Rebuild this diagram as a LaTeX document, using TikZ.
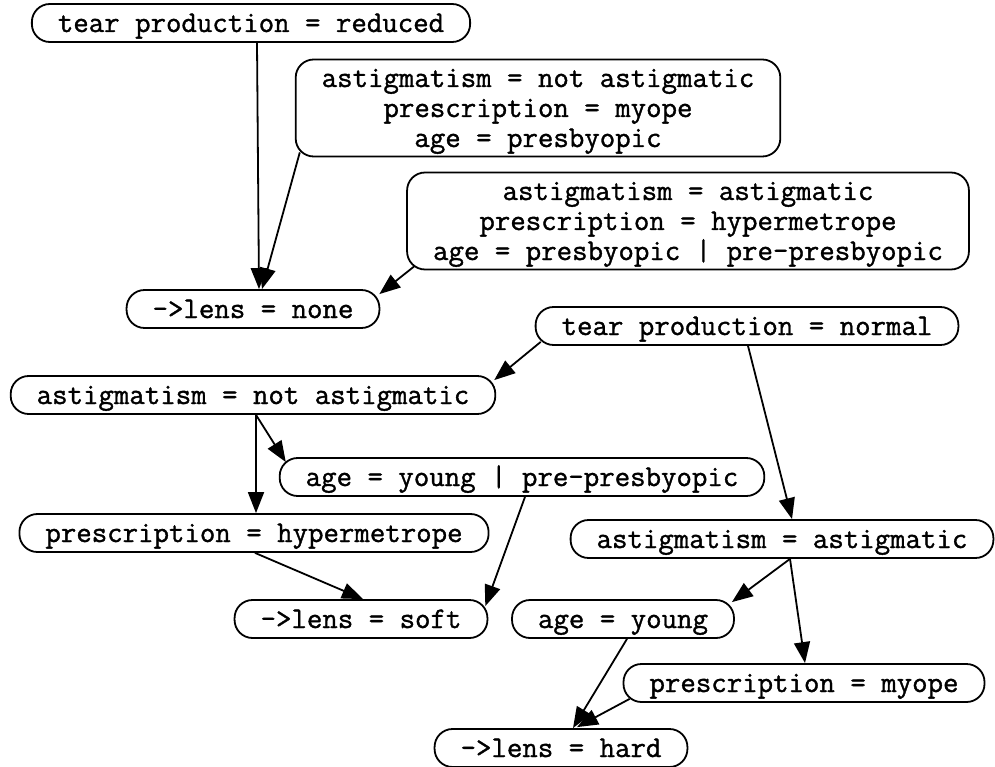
\documentclass[tikz,border=0pt]{standalone}
\usepackage{fontspec}
\setmonofont[FakeBold=1.2]{Latin Modern Mono}
\usetikzlibrary{arrows.meta}

\begin{document}
\begin{tikzpicture}[x=1pt, y=-1pt,
  rule/.style={draw, line width=1.8pt, rounded corners=18pt, inner xsep=26pt,
    inner ysep=5pt, minimum height=38pt, align=center,
    text height=23pt, text depth=5pt,
    font=\ttfamily\fontsize{30}{30}\selectfont},
  rulebox/.style={rule, text height=78pt, text depth=0pt, inner ysep=9.5pt},
  edge/.style={line width=1.8pt, -{Triangle[length=21pt,width=16pt]}}]
\useasboundingbox (0,0) rectangle (995,767);

\node[rule] (tearred) at (251,23){tear production = reduced};
\node[rulebox] (rulea) at (538,108){astigmatism = not astigmatic\\prescription = myope\\age = presbyopic};
\node[rulebox] (ruleb) at (688,221){astigmatism = astigmatic\\prescription = hypermetrope\\age = presbyopic | pre-presbyopic};
\node[rule] (none) at (253,309){->lens = none};
\draw[edge]([xshift=6pt]tearred.south) -- ([xshift=6pt]none.north);
\draw[edge]([xshift=5pt,yshift=5pt]rulea.south west) -- ([xshift=9pt]none.north);
\draw[edge]([xshift=8pt,yshift=4pt]ruleb.south west) -- ([xshift=-1pt,yshift=-5pt]none.north east);

\node[rule] (tearnorm) at (747,326){tear production = normal};
\node[rule] (astnot) at (253,395){astigmatism = not astigmatic};
\draw[edge]([xshift=6pt,yshift=4pt]tearnorm.south west) -- ([xshift=-2pt,yshift=-5pt]astnot.north east);
\node[rule] (ageyp) at (522,477){age = young | pre-presbyopic};
\node[rule] (preshyp) at (254,533){prescription = hypermetrope};
\node[rule] (soft) at (361,619){->lens = soft};
\draw[edge]([xshift=3pt]astnot.south) -- ([xshift=7pt,yshift=-5pt]ageyp.north west);
\draw[edge]([xshift=3pt]astnot.south) -- ([xshift=2pt]preshyp.north);
\draw[edge]([xshift=1pt]preshyp.south) -- ([xshift=2pt]soft.north);
\draw[edge]([xshift=3pt]ageyp.south) -- ([xshift=-3pt,yshift=-7pt]soft.north east);

\node[rule] (astast) at (782,539){astigmatism = astigmatic};
\draw[edge]([xshift=1pt]tearnorm.south) -- ([xshift=10pt]astast.north);
\node[rule] (agey) at (623,619){age = young};
\node[rule] (presmy) at (804,683){prescription = myope};
\node[rule] (hard) at (561,748){->lens = hard};
\draw[edge]([xshift=8pt]astast.south) -- ([xshift=-3pt,yshift=-3pt]agey.north east);
\draw[edge]([xshift=8pt]astast.south) -- ([xshift=1pt]presmy.north);
\draw[edge]([xshift=4pt]agey.south) -- ([xshift=12pt]hard.north);
\draw[edge]([xshift=7pt,yshift=4pt]presmy.south west) -- ([xshift=16pt,yshift=1pt]hard.north);

\end{tikzpicture}
\end{document}
